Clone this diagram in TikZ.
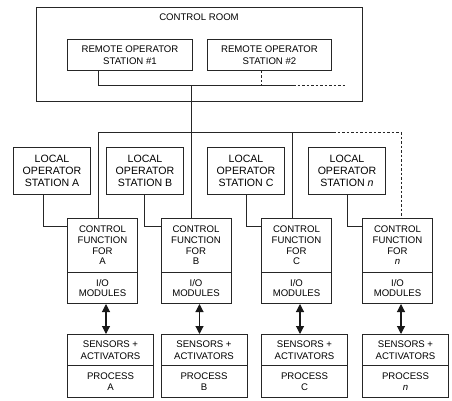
\documentclass[tikz,border=0pt]{standalone}
\usepackage{fontspec}
\setmainfont{Liberation Sans}
\usetikzlibrary{arrows.meta}
\begin{document}
\begin{tikzpicture}[x=1pt,y=-1pt,
  line width=1pt, draw=black!85,
  box/.style={draw=black!85, line width=1pt, rectangle, inner sep=0pt, anchor=north west, align=center},
  remfont/.style={font=\fontsize{9.6}{11.7}\selectfont},
  locfont/.style={font=\fontsize{10.6}{12.3}\selectfont},
  cffont/.style={font=\fontsize{9.6}{10.7}\selectfont},
  senfont/.style={font=\fontsize{9.6}{12.3}\selectfont},
  prfont/.style={font=\fontsize{9.6}{11}\selectfont},
  link/.style={draw=black!85, line width=1pt},
  dlink/.style={draw=black!85, line width=1pt, dash pattern=on 2.5pt off 2pt},
  dblarrow/.style={draw=black!90, line width=1.1pt, {Triangle[length=8pt,width=8pt]}-{Triangle[length=8pt,width=8pt]}}
]
\useasboundingbox (0,0) rectangle (452,401);
% control room
\node[box, minimum width=326pt, minimum height=94pt] (room) at (36,7) {};
\node[remfont] (roomlbl) at (199,17.5) {CONTROL ROOM};
\node[box, remfont, minimum width=125pt, minimum height=31pt] (rem1) at (67,39) {REMOTE OPERATOR\\STATION \#1};
\node[box, remfont, minimum width=124pt, minimum height=31pt] (rem2) at (207,39) {REMOTE OPERATOR\\STATION \#2};
\coordinate (r1) at (98,86);
\coordinate (rj) at (191,86);
\coordinate (r2) at (261,86);
\coordinate (rs) at (293,86);
\coordinate (re) at (345,86);
\draw[link] (rem1.south -| r1) -- (r1) -- (rs);
\draw[dlink] (rs) -- (re);
\draw[dlink] (rem2.south -| r2) -- (r2);
% bus
\coordinate (bj) at (191,132);
\coordinate (bA) at (98,132);
\coordinate (bC) at (292,132);
\coordinate (bs) at (333,132);
\coordinate (bn) at (401,132);
\draw[link] (rj) -- (bj);
\draw[link] (bA) -- (bs);
\draw[dlink] (bs) -- (bn);
% local stations
\foreach \n/\x/\t in {A/13/A, B/106/B, C/207/C, n/308/\textit{n}} {
  \node[box, locfont, minimum width=77pt, minimum height=47pt] (loc\n) at (\x,147) {LOCAL\\OPERATOR\\STATION \t};
}
% control functions and IO
\foreach \n/\x/\t in {A/67/A, B/160.5/B, C/261/C, n/362/\textit{n}} {
  \node[box, cffont, minimum width=70pt, minimum height=54pt] (cf\n) at (\x,218) {CONTROL\\FUNCTION\\FOR\\\t};
  \node[box, cffont, minimum width=70pt, minimum height=31pt] (io\n) at (\x,272) {I/O\\MODULES};
  \node[box, senfont, minimum width=86pt, minimum height=31pt] (sen\n) at (\x,334) {SENSORS +\\ACTIVATORS};
  \node[box, prfont, minimum width=86pt, minimum height=32pt] (pr\n) at (\x,365) {PROCESS\\\t};
  \coordinate (ar\n) at (\x+39,0);
  \draw[dblarrow] (io\n.south -| ar\n) -- (sen\n.north -| ar\n);
}
% bus drops
\draw[link] (bA) -- (cfA.north -| bA);
\draw[link] (bj) -- (cfB.north -| bj);
\draw[link] (bC) -- (cfC.north -| bC);
\draw[dlink] (bn) -- (cfn.north -| bn);
% local links
\foreach \n/\x in {A/43, B/144, C/246, n/347} {
  \coordinate (lk\n) at (\x,226);
  \draw[link] (loc\n.south -| lk\n) -- (lk\n) -- (cf\n.west |- lk\n);
}
\end{tikzpicture}
\end{document}
